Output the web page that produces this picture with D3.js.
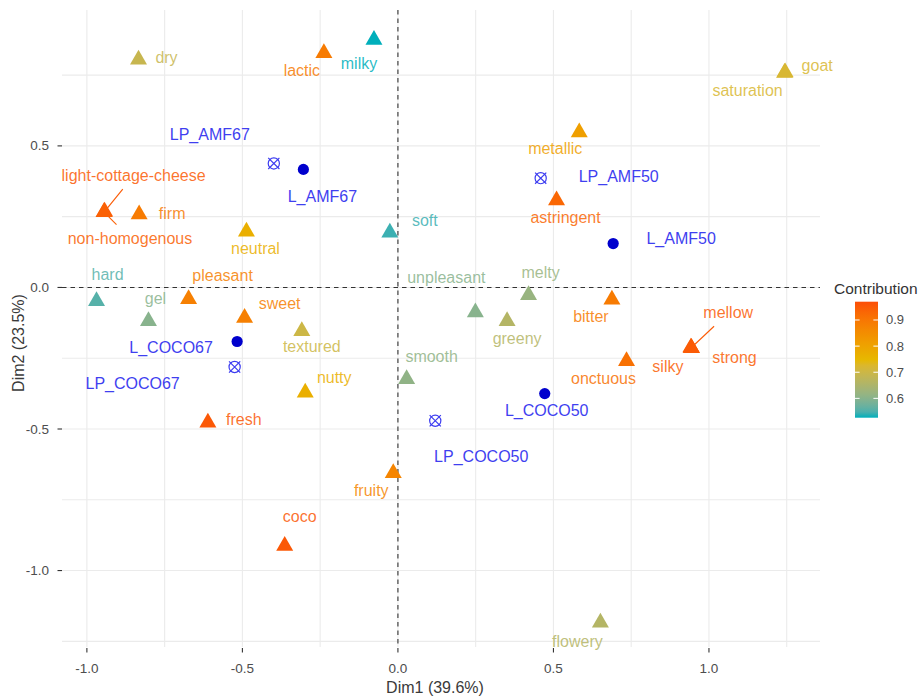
<!DOCTYPE html>
<html lang="en">
<head>
<meta charset="UTF-8">
<title>Biplot Dim1 / Dim2</title>
<script src="https://d3js.org/d3.v7.min.js"></script>
<style>
    body { margin: 0; background: #fff; }
    text { font-family: "Liberation Sans", Arial, sans-serif; }
    .grid line { stroke: #ebebeb; stroke-width: 1.1; }
    .zero { stroke: #333; stroke-width: 1.1; stroke-dasharray: 4.5,4; }
    .tick-label { fill: #4d4d4d; font-size: 13.5px; }
</style>
</head>
<body>
<div id="chart"></div>
<script>
// variables (triangles), coloured by contribution
const varNames = ["dry", "lactic", "milky", "light-cottage-cheese", "non-homogenous", "firm", "neutral", "soft",
    "hard", "gel", "pleasant", "sweet", "textured", "nutty", "fresh", "smooth", "fruity", "coco", "flowery",
    "goat", "saturation", "metallic", "astringent", "unpleasant", "melty", "greeny", "bitter", "onctuous",
    "silky", "strong", "mellow"];
const varDim1 = [-0.834, -0.238, -0.077, -0.943, -0.945, -0.832, -0.487, -0.026,
    -0.969, -0.802, -0.673, -0.493, -0.309, -0.298, -0.611, 0.028, -0.015, -0.364, 0.651,
    1.245, 1.243, 0.583, 0.510, 0.249, 0.420, 0.351, 0.688, 0.735,
    0.942, 0.944, 0.943];
const varDim2 = [0.805, 0.828, 0.875, 0.268, 0.266, 0.258, 0.197, 0.194,
    -0.048, -0.119, -0.041, -0.107, -0.154, -0.371, -0.477, -0.324, -0.656, -0.913, -1.184,
    0.760, 0.758, 0.548, 0.308, -0.088, -0.027, -0.119, -0.043, -0.260,
    -0.212, -0.214, -0.213];
const varContrib = [0.69, 0.89, 0.52, 0.95, 0.94, 0.89, 0.77, 0.54,
    0.555, 0.60, 0.88, 0.88, 0.70, 0.77, 0.955, 0.61, 0.87, 0.955, 0.66,
    0.72, 0.72, 0.81, 0.93, 0.60, 0.62, 0.66, 0.89, 0.91,
    0.945, 0.945, 0.95];

// individuals
const indNames = ["L_AMF67", "LP_AMF67", "L_AMF50", "LP_AMF50", "L_COCO67", "LP_COCO67", "L_COCO50", "LP_COCO50"];
const indDim1 = [-0.304, -0.399, 0.692, 0.459, -0.517, -0.525, 0.472, 0.120];
const indDim2 = [0.417, 0.438, 0.155, 0.386, -0.191, -0.281, -0.375, -0.471];
const indType = ["L", "LP", "L", "LP", "L", "LP", "L", "LP"];

const xTicks = [-1.0, -0.5, 0.0, 0.5, 1.0];
const yTicks = [0.5, 0.0, -0.5, -1.0];
const legendTicks = [0.6, 0.7, 0.8, 0.9];
const contribRange = [0.526, 0.970];

// label placement (pixel offsets from the point, as the repel step left them)
const varLabelOffset = {
    "dry": [28, -2], "lactic": [-22, 17], "milky": [-15, 24], "light-cottage-cheese": [29, -36],
    "non-homogenous": [26, 26], "firm": [33, -1], "neutral": [9, 17], "soft": [35, -12],
    "hard": [11, -27], "gel": [7, -23], "pleasant": [34, -24], "sweet": [35, -14],
    "textured": [10, 15], "nutty": [29, -15], "fresh": [36, -3], "smooth": [25, -23],
    "fruity": [-22, 17], "coco": [15, -29], "flowery": [-23, 19], "goat": [32, -7],
    "saturation": [-37, 18], "metallic": [-24, 16], "astringent": [9, 17], "unpleasant": [-29, -35],
    "melty": [12, -23], "greeny": [10, 17], "bitter": [-21, 17], "onctuous": [-23, 17],
    "silky": [-23, 19], "strong": [43, 9], "mellow": [37, -35]
};
const withSegment = ["light-cottage-cheese", "non-homogenous", "mellow"];
const indLabelOffset = {
    "L_AMF67": [19, 27], "LP_AMF67": [-64, -29], "L_AMF50": [68, -5], "LP_AMF50": [78, -2],
    "L_COCO67": [-66, 6], "LP_COCO67": [-102, 16], "L_COCO50": [2, 17], "LP_COCO50": [46, 36]
};

const width = 922, height = 697;
const panel = { left: 62, right: 820, top: 10, bottom: 647 };

const svg = d3.select("#chart").append("svg")
    .attr("width", width)
    .attr("height", height);

const x = d3.scaleLinear().domain([-1.08, 1.357]).range([panel.left, panel.right]);
const y = d3.scaleLinear().domain([-1.27, 0.98]).range([panel.bottom, panel.top]);

const color = d3.scaleLinear()
    .domain([contribRange[0], (contribRange[0] + contribRange[1]) / 2, contribRange[1]])
    .range(["#00AFBB", "#E7B800", "#FC4E07"])
    .interpolate(d3.interpolateLab)
    .clamp(true);

// grid
const grid = svg.append("g").attr("class", "grid");
const xGrid = d3.range(-1.0, 1.26, 0.25);
const yGrid = d3.range(-1.25, 0.76, 0.25);
grid.selectAll(".vx").data(xGrid).join("line")
    .attr("x1", d => x(d)).attr("x2", d => x(d))
    .attr("y1", panel.top).attr("y2", panel.bottom);
grid.selectAll(".hy").data(yGrid).join("line")
    .attr("y1", d => y(d)).attr("y2", d => y(d))
    .attr("x1", panel.left).attr("x2", panel.right);

// zero lines
svg.append("line").attr("class", "zero")
    .attr("x1", panel.left).attr("x2", panel.right)
    .attr("y1", y(0)).attr("y2", y(0));
svg.append("line").attr("class", "zero")
    .attr("x1", x(0)).attr("x2", x(0))
    .attr("y1", panel.top).attr("y2", panel.bottom);

// axes
const xAxis = svg.append("g");
xAxis.selectAll("line").data(xTicks).join("line")
    .attr("x1", d => x(d)).attr("x2", d => x(d))
    .attr("y1", panel.bottom + 1).attr("y2", panel.bottom + 5.5)
    .attr("stroke", "#333").attr("stroke-width", 1.1);
xAxis.selectAll("text").data(xTicks).join("text")
    .attr("class", "tick-label")
    .attr("x", d => x(d)).attr("y", 668)
    .attr("text-anchor", "middle").attr("dominant-baseline", "central")
    .text(d => d3.format(".1f")(d).replace("−", "-"));

const yAxis = svg.append("g");
yAxis.selectAll("line").data(yTicks).join("line")
    .attr("y1", d => y(d)).attr("y2", d => y(d))
    .attr("x1", panel.left - 4.5).attr("x2", panel.left)
    .attr("stroke", "#333").attr("stroke-width", 1.1);
yAxis.selectAll("text").data(yTicks).join("text")
    .attr("class", "tick-label")
    .attr("x", 49).attr("y", d => y(d))
    .attr("text-anchor", "end").attr("dominant-baseline", "central")
    .text(d => d3.format(".1f")(d).replace("−", "-"));

svg.append("text")
    .attr("x", 435).attr("y", 687)
    .attr("text-anchor", "middle").attr("dominant-baseline", "central")
    .style("font-size", "16px").attr("fill", "#3a3a3a")
    .text("Dim1 (39.6%)");
svg.append("text")
    .attr("transform", "translate(18,343) rotate(-90)")
    .attr("text-anchor", "middle").attr("dominant-baseline", "central")
    .style("font-size", "16px").attr("fill", "#3a3a3a")
    .text("Dim2 (23.5%)");

// variable data
const vars = varNames.map((n, i) => ({ name: n, d1: varDim1[i], d2: varDim2[i], c: varContrib[i] }));
const inds = indNames.map((n, i) => ({ name: n, d1: indDim1[i], d2: indDim2[i], type: indType[i] }));

const triangle = d3.symbol().type(d3.symbolTriangle).size(125);

const segG = svg.append("g");

const varLabels = svg.append("g").selectAll("text").data(vars).join("text")
    .attr("x", d => x(d.d1) + varLabelOffset[d.name][0])
    .attr("y", d => y(d.d2) + varLabelOffset[d.name][1])
    .attr("text-anchor", "middle").attr("dominant-baseline", "central")
    .style("font-size", "16px")
    .attr("fill", d => color(d.c))
    .attr("fill-opacity", 0.85)
    .text(d => d.name);

// repel segments: from near the point towards the label centre, stopping at the padded box
varLabels.each(function (d) {
    if (!withSegment.includes(d.name)) return;
    const bb = this.getBBox();
    const px = x(d.d1), py = y(d.d2);
    const cx = bb.x + bb.width / 2, cy = bb.y + bb.height / 2;
    const dx = cx - px, dy = cy - py;
    const len = Math.hypot(dx, dy);
    const hw = bb.width / 2 + 5, hh = bb.height / 2 + 5;
    const t = Math.min(Math.abs(hw / dx), Math.abs(hh / dy));
    segG.append("line")
        .attr("x1", px + dx / len * 4).attr("y1", py + dy / len * 4)
        .attr("x2", cx - dx * t).attr("y2", cy - dy * t)
        .attr("stroke", color(d.c)).attr("stroke-width", 1.1);
});

svg.append("g").selectAll("path").data(vars).join("path")
    .attr("transform", d => `translate(${x(d.d1)},${y(d.d2)})`)
    .attr("d", triangle)
    .attr("fill", d => color(d.c));

// individuals
const indG = svg.append("g");
indG.selectAll("circle.dot").data(inds.filter(d => d.type === "L")).join("circle")
    .attr("class", "dot")
    .attr("cx", d => x(d.d1)).attr("cy", d => y(d.d2))
    .attr("r", 5.6)
    .attr("fill", "#0000cd");
const crosses = indG.selectAll("g.cross").data(inds.filter(d => d.type === "LP")).join("g")
    .attr("class", "cross")
    .attr("transform", d => `translate(${x(d.d1)},${y(d.d2)})`)
    .attr("stroke", "#3d3df0").attr("stroke-width", 1.2).attr("fill", "none");
crosses.append("circle").attr("r", 5.6);
crosses.append("path").attr("d", "M-5.6,-5.6L5.6,5.6M-5.6,5.6L5.6,-5.6");

indG.selectAll("text").data(inds).join("text")
    .attr("x", d => x(d.d1) + indLabelOffset[d.name][0])
    .attr("y", d => y(d.d2) + indLabelOffset[d.name][1])
    .attr("text-anchor", "middle").attr("dominant-baseline", "central")
    .style("font-size", "16px")
    .attr("fill", "#3f3ff0")
    .text(d => d.name);

// legend
const legend = svg.append("g");
const barX = 855, barW = 23, barTop = 301.7, barBottom = 417.7;
const ly = d3.scaleLinear().domain(contribRange).range([barBottom, barTop]);
const defs = svg.append("defs");
const grad = defs.append("linearGradient").attr("id", "contribGrad")
    .attr("x1", 0).attr("x2", 0).attr("y1", 1).attr("y2", 0);
d3.range(0, 1.001, 0.05).forEach(t => {
    grad.append("stop").attr("offset", t)
        .attr("stop-color", color(contribRange[0] + t * (contribRange[1] - contribRange[0])));
});
legend.append("text")
    .attr("x", 834).attr("y", 288)
    .attr("dominant-baseline", "central")
    .style("font-size", "15.5px").attr("fill", "#333")
    .text("Contribution");
legend.append("rect")
    .attr("x", barX).attr("y", barTop)
    .attr("width", barW).attr("height", barBottom - barTop)
    .attr("fill", "url(#contribGrad)");
legendTicks.forEach(v => {
    legend.append("line").attr("x1", barX).attr("x2", barX + 4.6)
        .attr("y1", ly(v)).attr("y2", ly(v)).attr("stroke", "#fff").attr("stroke-width", 1);
    legend.append("line").attr("x1", barX + barW - 4.6).attr("x2", barX + barW)
        .attr("y1", ly(v)).attr("y2", ly(v)).attr("stroke", "#fff").attr("stroke-width", 1);
});
legend.selectAll("text.lt").data(legendTicks).join("text")
    .attr("class", "lt")
    .attr("x", 886).attr("y", d => ly(d))
    .attr("dominant-baseline", "central")
    .style("font-size", "13px").attr("fill", "#4d4d4d")
    .text(d => d.toFixed(1));
</script>
</body>
</html>
